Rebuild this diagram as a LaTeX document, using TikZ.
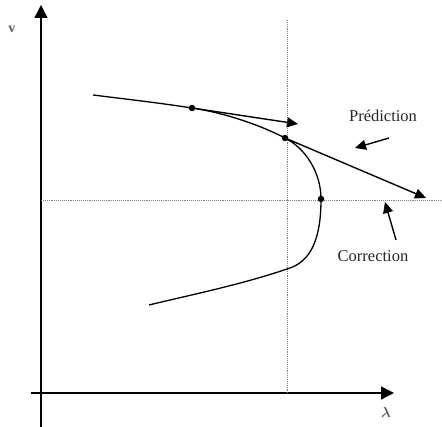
\documentclass[tikz,border=0pt]{standalone}
\usepackage{amsmath,amssymb}
\usepackage{fontspec}
\setmainfont{Liberation Serif}
\usetikzlibrary{arrows.meta,positioning,calc}
\tikzset{
  axis/.style  ={line width=1.4pt,-{Triangle[length=13pt,width=13pt]}},
  crv/.style   ={line width=1.3pt},
  ar/.style    ={line width=1.4pt,-{Triangle[length=11pt,width=10pt]}},
  guide/.style ={densely dotted,gray,line width=0.9pt},
  dot/.style   ={circle,fill=black,inner sep=2.3pt},
  lbl/.style   ={font=\fontsize{16.5}{19}\selectfont,text=black!85,inner sep=1pt},
  ax/.style    ={font=\fontsize{14}{16}\selectfont\bfseries,text=black!60!blue!30!gray,inner sep=1pt},
}
\begin{document}
\begin{tikzpicture}[x=1pt,y=1pt]
  \useasboundingbox (0,0) rectangle (442,427);
  % axes
  \coordinate (O1) at (41,0);  \coordinate (V) at (41,422);
  \coordinate (O2) at (31,34); \coordinate (L) at (394,34);
  \draw[axis] (O1) -- (V);
  \draw[axis] (O2) -- (L);
  \node[ax] (vl) at (12,398){v};
  \node[ax] (ll) at (386,14){$\boldsymbol{\lambda}$};
  % guide lines
  \coordinate (g1) at (287,407); \coordinate (g2) at (287,34);
  \coordinate (h1) at (41,227);  \coordinate (h2) at (442,227);
  \draw[guide] (g1) -- (g2);
  \draw[guide] (h1) -- (h2);
  % branch
  \coordinate (c0) at (93,332);
  \node[dot] (p1) at (192,319){};
  \node[dot] (p2) at (285,289){};
  \node[dot] (p3) at (321,228){};
  \coordinate (c4) at (287,158);
  \coordinate (c5) at (149,122);
  \draw[crv] (c0) .. controls (125,328) and (160,324) .. (p1.center)
    .. controls (225,314) and (260,302) .. (p2.center)
    .. controls (305,279) and (321,255) .. (p3.center)
    .. controls (321,190) and (312,165) .. (c4)
    .. controls (240,142) and (190,132) .. (c5);
  % predictor steps
  \coordinate (t1) at (298,303);
  \coordinate (t2) at (426,229);
  \draw[ar] (p1.center) -- (t1);
  \draw[ar] (p2.center) -- (t2);
  % labels
  \node[lbl] (pr) at (383,311){Prédiction};
  \node[lbl] (co) at (373,171){Correction};
  \coordinate (a1) at (389,289); \coordinate (b1) at (355,279);
  \coordinate (a2) at (396,187); \coordinate (b2) at (385,225);
  \draw[ar] (a1) -- (b1);
  \draw[ar] (a2) -- (b2);
\end{tikzpicture}
\end{document}
